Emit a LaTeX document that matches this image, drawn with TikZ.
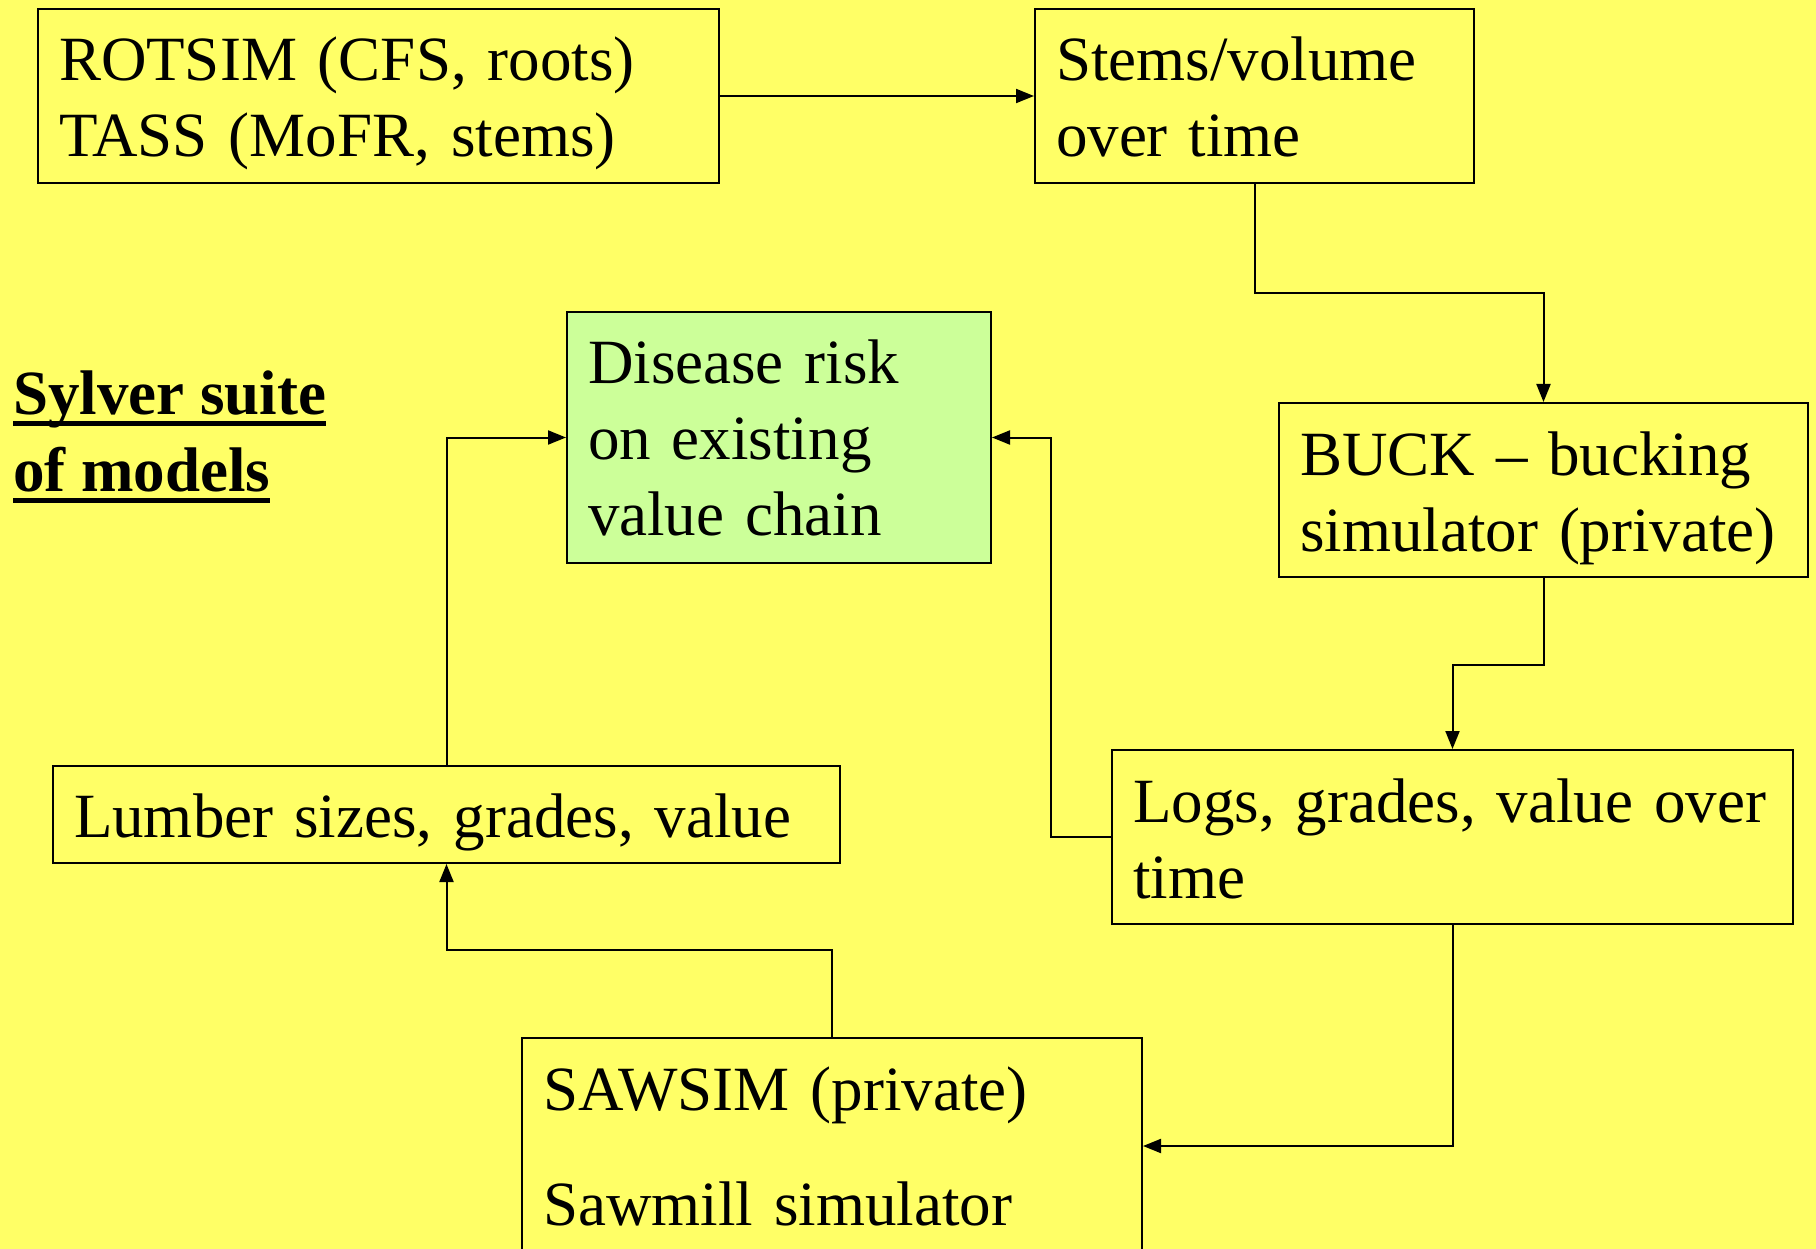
\documentclass[tikz,border=0pt]{standalone}
\usepackage{fontspec}
\setmainfont{Liberation Serif}
\usetikzlibrary{arrows.meta}
\definecolor{slideyellow}{HTML}{FFFF66}
\definecolor{riskgreen}{HTML}{CCFF99}
\newcommand{\titleline}[1]{\setbox0\hbox{#1}\rlap{\rule[-12pt]{\wd0}{5pt}}\box0}
\tikzset{
  modelbox/.style={draw=black, line width=2pt, rectangle, inner xsep=21pt, inner ysep=0pt,
    align=left, font=\fontsize{63pt}{76pt}\selectfont},
  lowered/.style={execute at begin node={\rule{0pt}{60pt}}, execute at end node={\rule[-14pt]{0pt}{0pt}}},
  flow/.style={line width=2pt, -{Triangle[length=18pt,width=14pt]}}
}
\begin{document}
\begin{tikzpicture}[x=1pt,y=-1pt]
    \useasboundingbox (0,0) rectangle (1816,1249);
    \fill [slideyellow] (0,0) rectangle (1816,1249);
    \node [modelbox, lowered, minimum width=681pt, minimum height=174pt, text width=639pt] (rot) at (378.5,96) {ROTSIM (CFS, roots)\\TASS (MoFR, stems)};
    \node [modelbox, lowered, minimum width=439pt, minimum height=174pt, text width=397pt] (stems) at (1254.5,96) {Stems/volume\\over time};
    \node [modelbox, lowered, minimum width=529pt, minimum height=174pt, text width=487pt] (buck) at (1543.5,490) {BUCK -- bucking\\simulator (private)};
    \node [modelbox, lowered, minimum width=681pt, minimum height=174pt, text width=639pt] (logs) at (1452.5,837) {Logs, grades, value over\\time};
    \node [modelbox, fill=riskgreen, minimum width=424pt, minimum height=251pt, text width=382pt] (risk) at (779,437.5) {Disease risk\\on existing\\value chain};
    \node [modelbox, lowered, minimum width=787pt, minimum height=97pt, text width=745pt] (lumber) at (446.5,814.5) {Lumber sizes, grades, value};
    \node [modelbox, minimum width=620pt, minimum height=216pt, text width=578pt] (sawsim) at (832,1146) {SAWSIM (private)\\[39pt]Sawmill simulator};
    \node [anchor=west, align=left, inner sep=0pt, font=\fontsize{63pt}{77pt}\selectfont\bfseries] (title) at (13,437) {\titleline{Sylver suite}\\\titleline{of models}};
    \draw [flow] (rot.east) -- (stems.west);
    \draw [flow] (stems.south) -- ++(0,109) -| (buck.north);
    \draw [flow] (buck.south) -- ++(0,87) -| (logs.north);
    \draw [flow] (logs.west) -- ++(-60,0) |- (risk.east);
    \draw [flow] (logs.south) |- (sawsim.east);
    \draw [flow] (sawsim.north) -- ++(0,-87) -| (lumber.south);
    \draw [flow] (lumber.north) |- (risk.west);
\end{tikzpicture}
\end{document}
